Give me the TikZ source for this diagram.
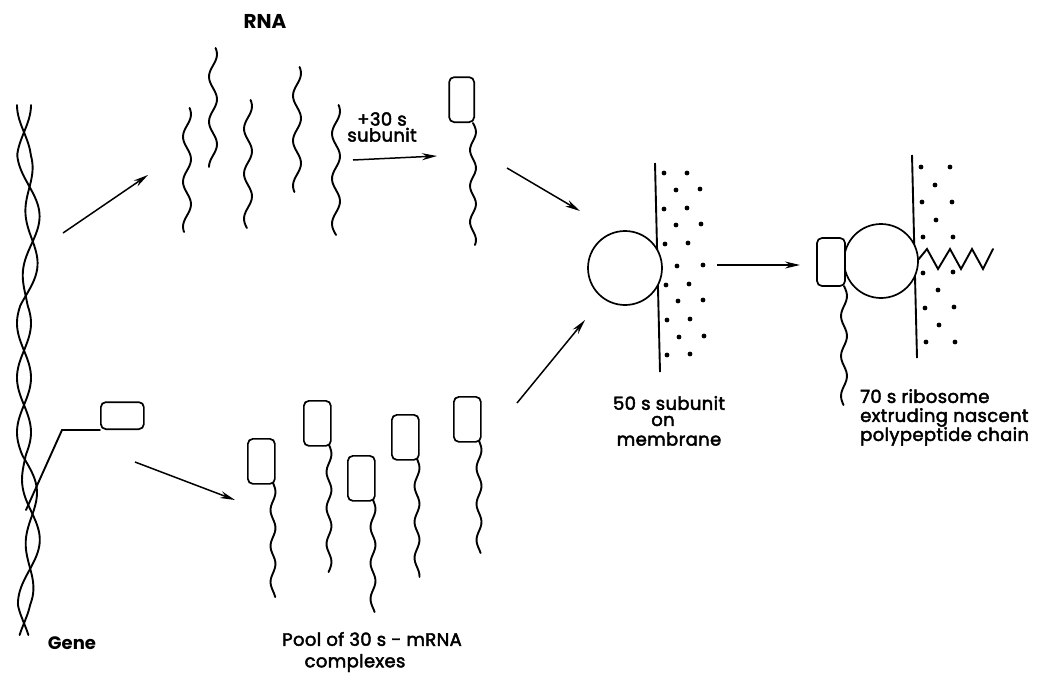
\documentclass[tikz,border=0pt]{standalone}
\usepackage{fontspec}
\setmainfont{Poppins}
\newfontfamily\labelfont{Poppins}[FakeBold=2.5, LetterSpace=2]
\usepackage{tikz}
\usetikzlibrary{arrows.meta}

\tikzset{
  strand/.style={line width=1.9pt, line cap=round},
  subunit/.style={draw, line width=1.7pt, rounded corners=5pt, inner sep=0pt, fill=white},
  mem/.style={line width=1.9pt},
  lbl/.style={font=\labelfont\fontsize{18}{20}\selectfont, inner sep=0pt},
  blbl/.style={font=\fontsize{18}{20}\selectfont\bfseries, inner sep=0pt},
}

\begin{document}
\begin{tikzpicture}[x=1pt,y=-1pt,>={Stealth[length=15pt,width=7pt]}]
\useasboundingbox (0,0) rectangle (1040,678);

% gene: two twisted strands
\foreach \s in {1,-1}
  \draw[strand] plot[domain=105:635, samples=220, smooth, variable=\t]
    ({24+9*max(0,cos(1.2*(\t-530))) + \s*7*sin(3.3*(\t-105)+90)}, \t);
\coordinate (fork) at (26,510);
\draw[strand] (fork) -- (62,430) -- (100,430);
\node[subunit, minimum width=43pt, minimum height=27pt, anchor=south west] (gbox) at (100,430) {};
\node[blbl] (gene) at (72,643) {Gene};

% free RNA
\foreach \x/\a/\b in {187/108/232, 213/48/167, 248/100/228, 297/67/192, 336/105/235}
  \draw[strand] plot[domain=\a:\b, samples=50, smooth, variable=\t] ({\x+4*sin(8*(\t-\a)+40)}, \t);
\node[blbl, font=\fontsize{20}{22}\selectfont\bfseries] (rna) at (265,21) {RNA};

% RNA picks up a 30 s subunit
\node[lbl, align=center] (plus) at (382,127) {+30 s\\[-4pt]subunit};
\node[subunit, minimum width=25pt, minimum height=45pt, anchor=south east] (c0) at (475,123) {};
\draw[strand] plot[domain=123:245, samples=40, smooth, variable=\t] ({473+3*sin(10*(\t-123))}, \t);

% pool of 30 s - mRNA complexes
\foreach \n/\x/\y/\e in {a/247/438/597, b/303/400/572, c/347/455/612, d/391/414/577, e/453/396/553}{
  \node[subunit, minimum width=27pt, minimum height=45pt, anchor=north west] (pool\n) at (\x,\y) {};
  \draw[strand] plot[domain=\y+45:\e, samples=40, smooth, variable=\t] ({\x+26+2.5*sin(10*(\t-\y-45))}, \t);
}
\node[lbl] (pool) at (372,639) {Pool of 30 s - mRNA};
\node[lbl] (poolb) at (355,663) {complexes};

% 50 s subunit sitting on the membrane
\draw[mem] (655,163) -- (660,372);
\node[draw, circle, line width=1.7pt, fill=white, minimum size=74pt] (s50) at (625,268) {};
\foreach \x/\y in {664/173,687/173,676/190,700/189,664/209,687/208,676/225,701/224,
    665/244,688/243,677/266,703/265,666/285,689/284,678/301,703/300,667/320,690/319,
    679/337,704/336,667/355,690/354}
  \fill (\x,\y) circle[radius=2.4pt];
\node[lbl] (l50) at (669,403) {50 s subunit};
\node[lbl] (on) at (663,421) {on};
\node[lbl] (mb) at (669,439) {membrane};

% 70 s ribosome with the growing chain
\draw[mem] (912,155) -- (917,358);
\node[draw, circle, line width=1.7pt, fill=white, minimum size=74pt] (s70) at (881,261) {};
\node[subunit, minimum width=28pt, minimum height=48pt] (c70) at (831,262) {};
\draw[strand] plot[domain=286:405, samples=40, smooth, variable=\t] ({844+3*sin(9*(\t-286))}, \t);
\draw[strand, line join=miter] (918,260) -- (927,249) -- (938,269) -- (950,249) -- (961,269)
  -- (972,249) -- (983,269) -- (993,249);
\foreach \x/\y in {921/167,950/167,935/185,922/202,952/202,936/220,923/237,953/237,
    923/273,953/272,938/290,925/308,954/307,939/325,926/342,955/342}
  \fill (\x,\y) circle[radius=2.4pt];
\node[lbl, align=left, anchor=north west] (l70) at (860,389)
  {70 s ribosome\\[-1pt]extruding nascent\\[-1pt]polypeptide chain};

% arrows between the stages
\coordinate (a1) at (63,233);  \coordinate (b1) at (148,175);
\coordinate (a2) at (135,462); \coordinate (b2) at (235,500);
\coordinate (a3) at (353,160); \coordinate (b3) at (437,156);
\coordinate (a4) at (507,168); \coordinate (b4) at (580,211);
\coordinate (a5) at (517,403); \coordinate (b5) at (585,320);
\coordinate (a6) at (717,265); \coordinate (b6) at (800,265);
\foreach \i in {1,...,6}
  \draw[->, line width=1.5pt] (a\i) -- (b\i);
\end{tikzpicture}
\end{document}
